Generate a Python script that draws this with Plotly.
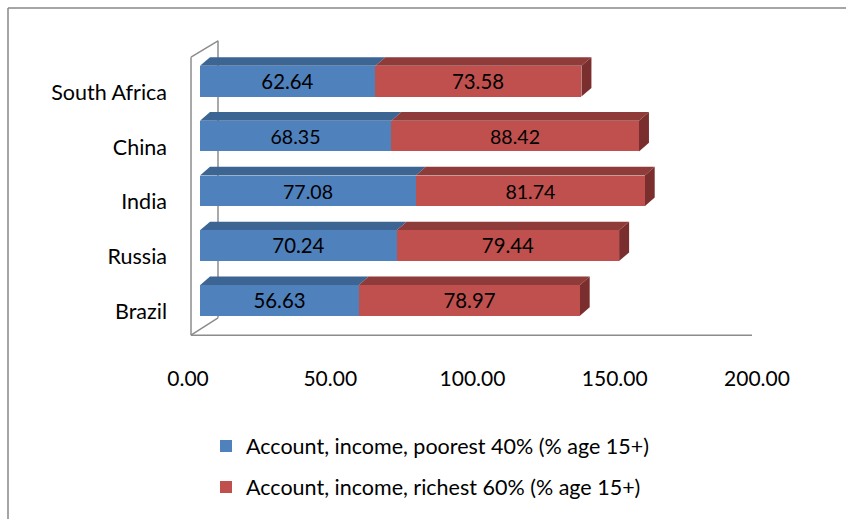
import plotly.graph_objects as go

countries = ["Brazil", "Russia", "India", "China", "South Africa"]
poorest40 = [56.63, 70.24, 77.08, 68.35, 62.64]
richest60 = [78.97, 79.44, 81.74, 88.42, 73.58]
series_names = ["Account, income, poorest 40% (% age 15+)",
                "Account, income, richest 60% (% age 15+)"]
x_ticks = [0, 50, 100, 150, 200]

FONT = "Lato"
BLUE, BLUE_TOP = "#4F81BD", "#3D6594"
RED, RED_TOP, RED_SIDE = "#C0504D", "#8E3B39", "#7A2F2E"
GRAY = "#8C8C8C"

# geometry (pixels)
W_PX, H_PX = 846, 519
L, R_ = 188, 760
T, B_ = 35, 352
PX_PER_X = 2.8       # bars scale
PX_PER_Y = 57.0
X0_BAR_PX = 200      # where value 0 of the bars sits
Y0_PX = 311          # centre of first category

xr = [(L - X0_BAR_PX) / PX_PER_X, (R_ - X0_BAR_PX) / PX_PER_X]
yr = [(Y0_PX - B_) / PX_PER_Y, (Y0_PX - T) / PX_PER_Y]

def px2x(px):
    return (px - X0_BAR_PX) / PX_PER_X

def py2y(py):
    return (Y0_PX - py) / PX_PER_Y

ypos = list(range(len(countries)))
BAR_W = 0.56
DX = 10 / PX_PER_X
DY = 9 / PX_PER_Y

fig = go.Figure()
fig.add_trace(go.Bar(
    y=ypos, x=poorest40, orientation="h", name=series_names[0],
    marker=dict(color=BLUE, line=dict(width=0)), width=BAR_W,
    text=[f"{v:.2f}" for v in poorest40], textposition="inside",
    insidetextanchor="middle", textfont=dict(family=FONT, size=22, color="black"),
    legendgroup="a", hoverinfo="skip"))
fig.add_trace(go.Bar(
    y=ypos, x=richest60, orientation="h", name=series_names[1],
    marker=dict(color=RED, line=dict(width=0)), width=BAR_W,
    text=[f"{v:.2f}" for v in richest60], textposition="inside",
    insidetextanchor="middle", textfont=dict(family=FONT, size=22, color="black"),
    legendgroup="b", hoverinfo="skip"))
# dummy trace on tick axis
fig.add_trace(go.Scatter(x=[None], y=[None], xaxis="x2", yaxis="y",
                         showlegend=False, hoverinfo="skip"))

shapes = []
# walls / floor (axis frame)
line = dict(color=GRAY, width=1.5)
xl, xb = px2x(191), px2x(218)
y_floor_f, y_floor_b = py2y(347), py2y(329)
y_top_f, y_top_b = py2y(58), py2y(41)
shapes += [
    dict(type="line", x0=xl, y0=y_floor_f, x1=px2x(752), y1=y_floor_f, line=line, layer="below"),
    dict(type="line", x0=xl, y0=y_floor_f, x1=xl, y1=y_top_f, line=line, layer="below"),
    dict(type="line", x0=xl, y0=y_top_f, x1=xb, y1=y_top_b, line=line, layer="below"),
    dict(type="line", x0=xl, y0=y_floor_f, x1=xb, y1=y_floor_b, line=line, layer="below"),
    dict(type="line", x0=xb, y0=y_floor_b, x1=xb, y1=y_top_b, line=line, layer="below"),
]
# 3D faces of bars
for i, y in enumerate(ypos):
    yt = y + BAR_W / 2
    yb = y - BAR_W / 2
    a = poorest40[i]
    b = a + richest60[i]
    for (x0, x1, c) in [(0, a, BLUE_TOP), (a, b, RED_TOP)]:
        shapes.append(dict(
            type="path", layer="below", line=dict(width=0), fillcolor=c,
            path=f"M{x0},{yt} L{x1},{yt} L{x1+DX},{yt+DY} L{x0+DX},{yt+DY} Z"))
    shapes.append(dict(
        type="path", layer="below", line=dict(width=0), fillcolor=RED_SIDE,
        path=f"M{b},{yb} L{b},{yt} L{b+DX},{yt+DY} L{b+DX},{yb+DY} Z"))

# chart border (only top and left edges visible in the window)
pw, ph = R_ - L, B_ - T
bx0, by1 = (8 - L) / pw, (B_ - 7) / ph
shapes += [
    dict(type="line", xref="paper", yref="paper", x0=bx0, x1=(W_PX + 20 - L) / pw,
         y0=by1, y1=by1, line=dict(color="#878787", width=1.5), layer="below"),
    dict(type="line", xref="paper", yref="paper", x0=bx0, x1=bx0,
         y0=by1, y1=(B_ - H_PX - 20) / ph, line=dict(color="#878787", width=1.5),
         layer="below"),
]

fig.update_layout(
    width=W_PX, height=H_PX,
    margin=dict(l=L, r=W_PX - R_, t=T, b=H_PX - B_, pad=0),
    paper_bgcolor="white", plot_bgcolor="white",
    barmode="stack", bargap=0,
    font=dict(family=FONT, size=22, color="black"),
    shapes=shapes,
    xaxis=dict(range=xr, visible=False, fixedrange=True),
    xaxis2=dict(overlaying="x", anchor="y", side="bottom",
                range=[0, (R_ - L) / 2.845], tickvals=x_ticks,
                ticktext=[f"{v:.2f}" for v in x_ticks],
                showgrid=False, zeroline=False, showline=False, ticks="",
                ticklabelstandoff=24, tickfont=dict(family=FONT, size=21)),
    yaxis=dict(range=yr, tickvals=ypos, ticktext=countries,
               showgrid=False, zeroline=False, showline=False, ticks="",
               ticklabelstandoff=20, ticklabelshift=11,
               tickfont=dict(family=FONT, size=21.5)),
    legend=dict(orientation="v", x=(206 - L) / pw, xanchor="left",
                y=(B_ - 441) / ph, yanchor="top",
                font=dict(family=FONT, size=21.5), tracegroupgap=10,
                bgcolor="rgba(0,0,0,0)"),
    showlegend=True,
)

fig.write_html("out.html")
